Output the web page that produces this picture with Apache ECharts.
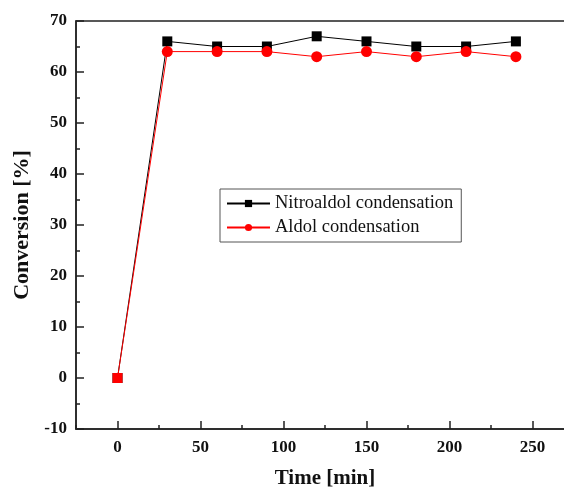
<!DOCTYPE html>
<html><head><meta charset="utf-8">
<script src="https://cdn.jsdelivr.net/npm/echarts@6/dist/echarts.min.js"></script>
<style>html,body{margin:0;padding:0;background:#fff}#c{width:564px;height:489px}</style>
</head><body><div id="c"></div>
<script>
const times = [0, 30, 60, 90, 120, 150, 180, 210, 240];
const nitroaldol = [0, 66, 65, 65, 67, 66, 65, 65, 66];
const aldol = [0, 64, 64, 64, 63, 64, 63, 64, 63];
const seriesNames = ['Nitroaldol condensation', 'Aldol condensation'];
const xMajorTicks = [0, 50, 100, 150, 200, 250];
const xMinorTicks = [-25, 25, 75, 125, 175, 225, 275];

const font = 'Liberation Serif';
const ink = '#222';
const chart = echarts.init(document.getElementById('c'));
const labelStyle = {color: '#111', fontFamily: font, fontWeight: 'bold', fontSize: 17};
chart.setOption({
  animation: false,
  grid: {left: 76, top: 21, width: 498, height: 408, outerBoundsMode: 'none', containLabel: false,
         show: true, borderColor: ink, borderWidth: 1.5, backgroundColor: 'transparent'},
  legend: {
    data: seriesNames,
    left: 220, top: 189,
    orient: 'vertical',
    borderColor: '#555', borderWidth: 1,
    padding: [5, 8, 5, 6],
    itemGap: 5, itemWidth: 43, itemHeight: 9,
    textStyle: {fontFamily: font, fontSize: 18.5, color: '#111'}
  },
  xAxis: [{
    type: 'value', min: -25, max: 275,
    name: 'Time [min]', nameLocation: 'middle', nameGap: 39,
    nameTextStyle: {color: '#111', fontFamily: font, fontWeight: 'bold', fontSize: 21},
    axisLine: {onZero: false, lineStyle: {color: ink, width: 1.5}},
    axisTick: {inside: true, length: 8, customValues: xMajorTicks, lineStyle: {color: ink, width: 1.5}},
    axisLabel: Object.assign({margin: 10, customValues: xMajorTicks}, labelStyle),
    splitLine: {show: false}
  }, {
    type: 'value', min: -25, max: 275, position: 'bottom',
    axisLine: {show: false, onZero: false},
    axisTick: {inside: true, length: 4, customValues: xMinorTicks, lineStyle: {color: ink, width: 1.5}},
    axisLabel: {show: false},
    splitLine: {show: false}
  }],
  yAxis: {
    type: 'value', min: -10, max: 70, interval: 10,
    name: 'Conversion [%]', nameLocation: 'middle', nameGap: 42,
    nameTextStyle: {color: '#111', fontFamily: font, fontWeight: 'bold', fontSize: 22},
    axisLine: {onZero: false, lineStyle: {color: ink, width: 1.5}},
    axisTick: {inside: true, length: 8, lineStyle: {color: ink, width: 1.5}},
    minorTick: {show: true, splitNumber: 2, length: 4, lineStyle: {color: ink, width: 1.5}},
    axisLabel: Object.assign({margin: 9}, labelStyle),
    splitLine: {show: false}
  },
  series: [
    {name: seriesNames[0], type: 'line', symbol: 'rect', symbolSize: 10,
     itemStyle: {color: '#000'}, lineStyle: {color: '#000', width: 1},
     data: times.map((t, i) => [t, nitroaldol[i]])},
    {name: seriesNames[1], type: 'line', symbol: 'circle', symbolSize: 11,
     itemStyle: {color: '#ff0000'}, lineStyle: {color: '#ff0000', width: 1},
     data: times.map((t, i) => i === 0 ? {value: [t, aldol[i]], symbol: 'rect', symbolSize: 10} : [t, aldol[i]])}
  ]
});
</script></body></html>
